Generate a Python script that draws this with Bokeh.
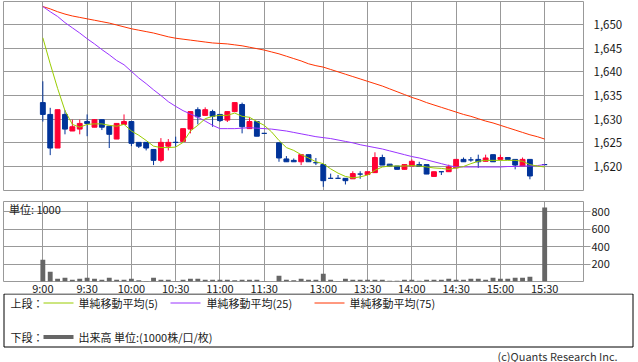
import numpy as np
from bokeh.plotting import figure
from bokeh.layouts import column, row
from bokeh.models import (Range1d, FixedTicker, NumeralTickFormatter, Label,
                          ColumnDataSource)
from bokeh.core.properties import value
from bokeh.embed import file_html
from bokeh.resources import INLINE

# ---------------- data ----------------
times = ["9:00", "9:05", "9:10", "9:15", "9:20", "9:25", "9:30", "9:35", "9:40", "9:45", "9:50", "9:55",
         "10:00", "10:05", "10:10", "10:15", "10:20", "10:25", "10:30", "10:35", "10:40", "10:45", "10:50", "10:55",
         "11:00", "11:05", "11:10", "11:15", "11:20", "11:25", "11:30",
         "12:25", "12:30", "12:35", "12:40", "12:45", "12:50", "12:55",
         "13:00", "13:05", "13:10", "13:15", "13:20", "13:25", "13:30", "13:35", "13:40", "13:45", "13:50", "13:55",
         "14:00", "14:05", "14:10", "14:15", "14:20", "14:25", "14:30", "14:35", "14:40", "14:45", "14:50", "14:55",
         "15:00", "15:05", "15:10", "15:15", "15:20", "15:25", "15:30"]

open_px = [1633.5, 1631.0, 1623.9, 1631.0, 1627.5, 1627.9, 1629.5, 1628.3, 1629.9, 1628.5,
           1625.8, 1628.9, 1629.5, 1625.1, 1625.1, 1623.6, 1621.3, 1624.3, 1625.1, 1625.3,
           1627.9, 1632.0, 1630.8, 1631.6, 1631.0, 1629.8, 1631.6, 1633.1, 1628.0, 1629.5,
           1627.0, None, 1625.0, 1621.6, 1621.3, 1621.0, 1622.5, 1620.8, 1620.4, 1617.5,
           1617.5, 1617.5, 1617.4, 1618.4, 1618.3, 1618.7, 1621.9, 1620.5, 1620.1, 1619.4,
           1620.1, 1620.4, 1620.4, 1617.9, 1618.9, 1618.9, 1619.7, 1621.5, 1621.4, 1621.5,
           1621.1, 1622.5, 1621.5, 1621.9, 1621.5, 1620.1, 1621.5, None, 1620.4]
high_px = [1638.0, 1632.4, 1632.0, 1631.9, 1629.9, 1629.9, 1631.0, 1630.0, 1629.9, 1628.5,
           1629.1, 1631.0, 1629.5, 1625.1, 1625.1, 1623.6, 1626.0, 1625.8, 1626.3, 1628.0,
           1631.6, 1632.5, 1632.5, 1632.0, 1631.0, 1631.6, 1633.5, 1633.5, 1630.4, 1629.5,
           1627.0, None, 1625.0, 1622.2, 1621.7, 1622.5, 1622.5, 1621.8, 1620.4, 1618.5,
           1618.2, 1617.5, 1619.0, 1619.0, 1618.9, 1623.0, 1622.5, 1620.5, 1620.1, 1620.4,
           1621.5, 1621.0, 1620.4, 1618.9, 1618.9, 1620.4, 1621.5, 1621.9, 1622.0, 1622.5,
           1622.5, 1622.5, 1622.5, 1621.9, 1621.5, 1621.9, 1621.5, None, 1620.4]
low_px = [1629.5, 1622.4, 1623.9, 1626.8, 1627.5, 1626.8, 1626.4, 1628.3, 1627.7, 1623.9,
          1625.8, 1628.9, 1624.3, 1623.9, 1623.4, 1620.3, 1620.9, 1623.4, 1624.2, 1625.3,
          1627.0, 1628.9, 1630.8, 1628.4, 1629.4, 1629.4, 1631.6, 1627.0, 1628.0, 1626.4,
          1627.0, None, 1621.0, 1621.0, 1621.0, 1620.3, 1621.0, 1620.3, 1615.7, 1617.5,
          1617.5, 1616.2, 1617.4, 1617.4, 1618.3, 1618.7, 1620.3, 1620.1, 1619.4, 1619.4,
          1620.1, 1620.0, 1618.4, 1617.9, 1618.2, 1618.9, 1619.7, 1621.0, 1621.0, 1619.7,
          1621.1, 1621.0, 1621.5, 1621.5, 1619.4, 1620.1, 1617.3, None, 1620.4]
close_px = [1631.0, 1623.9, 1632.0, 1627.9, 1628.4, 1629.1, 1629.1, 1629.9, 1628.3, 1626.8,
            1629.1, 1629.5, 1624.9, 1624.3, 1623.9, 1621.3, 1625.1, 1625.1, 1625.1, 1628.0,
            1631.6, 1630.5, 1632.0, 1630.6, 1629.7, 1631.6, 1633.5, 1628.4, 1629.5, 1626.4,
            1627.0, None, 1621.8, 1621.0, 1621.0, 1622.5, 1621.0, 1620.8, 1617.0, 1617.5,
            1617.5, 1617.0, 1618.5, 1618.4, 1618.9, 1621.9, 1620.3, 1620.1, 1619.4, 1620.4,
            1621.1, 1620.0, 1618.4, 1618.9, 1618.9, 1619.9, 1621.5, 1621.0, 1621.4, 1621.0,
            1621.8, 1621.0, 1621.9, 1621.5, 1620.3, 1621.5, 1618.0, None, 1620.4]
volume = [250, 113, 32, 44, 21, 32, 44, 32, 21, 44,
          21, 21, 32, 13, 5, 44, 21, 21, 5, 21,
          32, 32, 21, 21, 21, 21, 13, 21, 21, 21,
          5, None, 67, 21, 13, 32, 21, 21, 90, 21,
          5, 32, 21, 21, 21, 21, 21, 8, 8, 21,
          21, 8, 21, 21, 21, 32, 21, 21, 32, 32,
          21, 44, 32, 32, 44, 44, 56, None, 850]
ma5 = [1647.2, 1641.7, 1636.5, 1631.8, 1628.9, 1628.3, 1628.9, 1629.0, 1629.0, 1628.7,
       1628.5, 1628.9, 1627.5, 1626.6, 1625.5, 1624.3, 1624.0, 1624.0, 1624.1, 1625.1,
       1627.5, 1628.7, 1630.1, 1630.6, 1630.8, 1630.8, 1631.3, 1630.6, 1630.4, 1629.5,
       1628.7, 1627.3, 1625.5, 1624.0, 1623.4, 1622.5, 1621.8, 1621.0, 1620.6, 1619.5,
       1618.6, 1617.9, 1617.6, 1617.8, 1618.2, 1619.2, 1619.9, 1620.1, 1620.1, 1620.1,
       1620.2, 1620.1, 1619.9, 1619.7, 1619.6, 1619.4, 1619.7, 1620.0, 1620.6, 1621.1,
       1621.3, 1621.3, 1621.3, 1621.3, 1621.3, 1621.1, 1620.4, 1620.1, 1619.9]
ma25 = [1653.8, 1652.7, 1651.7, 1650.4, 1649.3, 1648.2, 1647.0, 1645.9, 1644.7, 1643.6,
        1642.4, 1641.5, 1640.1, 1638.7, 1637.5, 1636.2, 1635.0, 1633.7, 1632.7, 1631.8,
        1631.1, 1630.4, 1629.6, 1628.7, 1628.0, 1628.0, 1628.0, 1628.1, 1628.2, 1628.1,
        1628.0, 1627.9, 1627.7, 1627.5, 1627.2, 1626.9, 1626.6, 1626.3, 1626.1, 1625.9,
        1625.6, 1625.3, 1625.0, 1624.6, 1624.3, 1624.0, 1623.7, 1623.3, 1622.9, 1622.5,
        1622.1, 1621.8, 1621.4, 1621.0, 1620.6, 1620.2, 1619.9, 1619.9, 1619.9, 1619.9,
        1619.9, 1619.9, 1619.9, 1620.0, 1620.0, 1620.1, 1620.1, 1620.2, 1620.4]
ma75 = [1653.8, 1653.3, 1652.7, 1652.2, 1651.8, 1651.5, 1651.2, 1650.9, 1650.6, 1650.3,
        1649.9, 1649.5, 1649.1, 1648.8, 1648.5, 1648.2, 1647.8, 1647.4, 1647.1, 1646.9,
        1646.7, 1646.5, 1646.3, 1646.1, 1646.0, 1645.9, 1645.7, 1645.5, 1645.2, 1644.9,
        1644.6, 1644.2, 1643.8, 1643.3, 1642.8, 1642.3, 1641.7, 1641.3, 1641.0, 1640.5,
        1640.0, 1639.5, 1639.0, 1638.5, 1638.0, 1637.5, 1637.0, 1636.4, 1635.8, 1635.2,
        1634.6, 1634.1, 1633.5, 1633.0, 1632.5, 1632.0, 1631.5, 1631.0, 1630.6, 1630.1,
        1629.6, 1629.2, 1628.7, 1628.2, 1627.7, 1627.2, 1626.7, 1626.3, 1625.8]

tick_times = ["9:00", "9:30", "10:00", "10:30", "11:00", "11:30",
              "13:00", "13:30", "14:00", "14:30", "15:00", "15:30"]
price_ticks = [1620, 1625, 1630, 1635, 1640, 1645, 1650]
volume_ticks = [200, 400, 600, 800]

legend_ma = ["単純移動平均(5)", "単純移動平均(25)", "単純移動平均(75)"]
legend_vol = "出来高 単位:(1000株/口/枚)"

# ---------------- styles ----------------
UP = "#ff0033"
DOWN = "#003399"
GRID = "#999999"
C_MA5, C_MA25, C_MA75 = "#99cc00", "#9933ff", "#ff3300"
FONT = "Noto Sans CJK JP"
TXT = "#1a1a1a"
W = 638

pos = np.arange(len(times))
tick_pos = [times.index(t) for t in tick_times]
overrides = {p: t for p, t in zip(tick_pos, tick_times)}

traded = [i for i, o in enumerate(open_px) if o is not None]
candles = ColumnDataSource(dict(
    x=[pos[i] for i in traded],
    high=[high_px[i] for i in traded],
    low=[low_px[i] for i in traded],
    top=[max(open_px[i], close_px[i]) for i in traded],
    bottom=[min(open_px[i], close_px[i]) for i in traded],
    color=[UP if close_px[i] > open_px[i] else DOWN for i in traded],
))
vol_idx = [i for i, v in enumerate(volume) if v is not None]
vols = ColumnDataSource(dict(x=[pos[i] for i in vol_idx], v=[volume[i] for i in vol_idx]))

xr = Range1d(-5.33, 73.26)

# ---------------- upper panel: candles + moving averages ----------------
p1 = figure(width=W, height=196, x_range=xr, y_range=Range1d(1614.93, 1654.86),
            x_axis_location=None, y_axis_location="right",
            output_backend="svg", toolbar_location=None,
            min_border_left=3, min_border_right=55, min_border_top=1, min_border_bottom=6)
p1.outline_line_color = GRID
p1.xgrid.ticker = FixedTicker(ticks=tick_pos)
p1.ygrid.ticker = FixedTicker(ticks=price_ticks)
for g in (p1.xgrid, p1.ygrid):
    g.grid_line_color = GRID
    g.grid_line_width = 1
ya = p1.yaxis[0]
ya.ticker = FixedTicker(ticks=price_ticks)
ya.formatter = NumeralTickFormatter(format="0,0")
ya.axis_line_color = None
ya.major_tick_line_color = None
ya.major_tick_in = 0
ya.major_tick_out = 0
ya.minor_tick_line_color = None
ya.minor_tick_out = 0
ya.major_label_standoff = 10
ya.major_label_text_font = FONT
ya.major_label_text_font_size = "11.5px"
ya.major_label_text_color = TXT

p1.segment(x0="x", y0="low", x1="x", y1="high", line_color="color", line_width=1, source=candles)
p1.vbar(x="x", width=0.66, top="top", bottom="bottom", fill_color="color",
        line_color="color", line_width=1, source=candles)
p1.line(pos, ma75, line_color=C_MA75, line_width=1)
p1.line(pos, ma25, line_color=C_MA25, line_width=1)
p1.line(pos, ma5, line_color=C_MA5, line_width=1)

# ---------------- lower panel: volume ----------------
p2 = figure(frame_width=580, frame_height=80, x_range=xr, y_range=Range1d(0, 920),
            x_axis_location="below", y_axis_location="right",
            output_backend="svg", toolbar_location=None,
            min_border_left=3, min_border_right=55, min_border_top=5, min_border_bottom=0)
p2.outline_line_color = GRID
p2.xgrid.ticker = FixedTicker(ticks=tick_pos)
p2.ygrid.ticker = FixedTicker(ticks=volume_ticks)
for g in (p2.xgrid, p2.ygrid):
    g.grid_line_color = GRID
    g.grid_line_width = 1
xa = p2.xaxis[0]
xa.ticker = FixedTicker(ticks=tick_pos)
xa.major_label_overrides = overrides
xa.axis_line_color = None
xa.major_tick_line_color = None
xa.major_tick_in = 0
xa.major_tick_out = 0
xa.minor_tick_line_color = None
xa.minor_tick_out = 0
xa.major_label_standoff = -2
xa.major_label_text_font = FONT
xa.major_label_text_font_size = "11px"
xa.major_label_text_color = TXT
ya2 = p2.yaxis[0]
ya2.ticker = FixedTicker(ticks=volume_ticks)
ya2.axis_line_color = None
ya2.major_tick_line_color = GRID
ya2.major_tick_in = 0
ya2.major_tick_out = 7
ya2.minor_tick_line_color = None
ya2.minor_tick_out = 0
ya2.major_label_standoff = 1
ya2.major_label_text_font = FONT
ya2.major_label_text_font_size = "11px"
ya2.major_label_text_color = TXT

p2.vbar(x="x", width=0.66, top="v", bottom=0, fill_color="#666666", line_color=None, source=vols)
p2.add_layout(Label(x=-4.6, y=834, text="単位: 1000", text_font=FONT, text_font_size="11px",
                    text_color=TXT, text_baseline="middle"))

# ---------------- legend panel (full-width canvas, page pixel coordinates) ----------------
H3 = 69
p3 = figure(width=W, height=H3, x_range=Range1d(0, W), y_range=Range1d(H3, 0),
            x_axis_location=None, y_axis_location=None,
            output_backend="svg", toolbar_location=None,
            min_border_left=0, min_border_right=0, min_border_top=0, min_border_bottom=0)
p3.outline_line_color = None
p3.grid.visible = False
p3.quad(left=3.5, right=632.5, top=0.5, bottom=53.5, fill_color=None, line_color="#000000", line_width=1)

row1, row2 = 9.5, 43.5
p3.text(x=[10], y=[row1], text=["上段："], text_font=value(FONT), text_font_size="11px",
        text_color=TXT, text_baseline="middle")
p3.segment(x0=[43, 170, 314], y0=[row1] * 3, x1=[73, 200, 344], y1=[row1] * 3,
           line_color=[C_MA5, C_MA25, C_MA75], line_width=1)
p3.text(x=[78, 206, 349], y=[row1] * 3, text=legend_ma, text_font=value(FONT),
        text_font_size="11px", text_color=TXT, text_baseline="middle")
p3.text(x=[10], y=[row2], text=["下段："], text_font=value(FONT), text_font_size="11px",
        text_color=TXT, text_baseline="middle")
p3.segment(x0=[43], y0=[row2], x1=[73], y1=[row2], line_color="#666666", line_width=4)
p3.text(x=[78], y=[row2], text=[legend_vol], text_font=value(FONT), text_font_size="11px",
        text_color=TXT, text_baseline="middle")
p3.text(x=[497], y=[62], text=["(c)Quants Research Inc."], text_font=value(FONT),
        text_font_size="11px", text_color="#333333", text_align="left", text_baseline="middle")

legend_row = row(p3, styles={"margin-top": "-5px"})
layout = column(p1, p2, legend_row, spacing=0)
open("out.html", "w").write(file_html(layout, INLINE))
